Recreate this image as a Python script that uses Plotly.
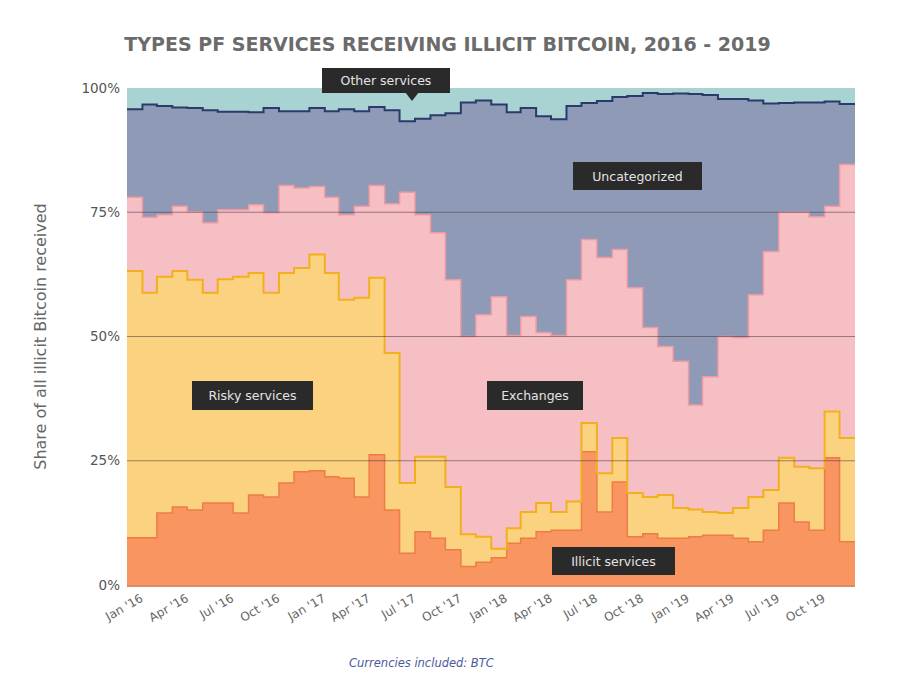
import pandas as pd
import plotly.graph_objects as go

# monthly shares (%) of illicit bitcoin received, Jan 2016 - Dec 2019
months = pd.date_range("2016-01-01", periods=48, freq="MS")

illicit = [9.5, 9.5, 14.5, 15.7, 15.1, 16.5, 16.5, 14.5, 18.1, 17.7, 20.5, 22.8,
           23.0, 21.8, 21.5, 17.7, 26.2, 15.1, 6.4, 10.7, 9.4, 7.1, 3.7, 4.6,
           5.5, 8.4, 9.4, 10.7, 11.0, 11.0, 26.8, 14.7, 20.7, 9.7, 10.3, 9.4,
           9.4, 9.7, 10.0, 10.0, 9.4, 8.7, 11.0, 16.5, 12.7, 11.0, 25.6, 8.7]
risky = [53.7, 49.3, 47.5, 47.5, 46.3, 42.3, 45.0, 47.5, 44.7, 41.1, 42.3, 41.0,
         43.5, 41.0, 35.9, 40.1, 35.6, 31.6, 14.1, 15.1, 16.4, 12.6, 6.5, 5.1,
         1.8, 3.0, 5.3, 5.8, 3.7, 5.8, 5.8, 7.8, 8.9, 8.8, 7.4, 8.7,
         6.1, 5.5, 4.7, 4.5, 6.1, 9.0, 8.1, 9.1, 11.1, 12.5, 9.3, 20.9]
exchanges = [14.8, 15.2, 12.5, 13.0, 13.7, 14.1, 14.0, 13.5, 13.7, 16.1, 17.6, 16.1,
             13.7, 15.2, 17.1, 18.4, 18.6, 30.0, 58.5, 48.7, 45.1, 41.7, 39.8, 44.7,
             50.7, 38.8, 39.3, 34.3, 35.5, 44.6, 36.9, 43.4, 37.9, 41.3, 34.1, 29.9,
             29.5, 21.0, 27.2, 35.5, 34.3, 40.7, 48.0, 49.4, 51.2, 50.6, 41.3, 55.0]
uncategorized = [17.7, 22.7, 21.9, 19.9, 20.9, 22.6, 19.7, 19.7, 18.6, 21.1, 14.9, 15.4,
                 15.8, 17.3, 21.2, 19.1, 15.8, 18.8, 14.3, 19.3, 23.6, 33.5, 47.1, 43.1,
                 38.7, 44.9, 42.0, 43.5, 43.5, 35.0, 27.5, 31.5, 30.7, 38.6, 47.2, 50.8,
                 53.9, 62.6, 56.7, 47.8, 48.0, 39.1, 29.8, 22.0, 22.1, 23.0, 21.1, 12.2]
other = [4.3, 3.3, 3.6, 3.9, 4.0, 4.5, 4.8, 4.8, 4.9, 4.0, 4.7, 4.7,
         4.0, 4.7, 4.3, 4.7, 3.8, 4.5, 6.7, 6.2, 5.5, 5.1, 2.9, 2.5,
         3.3, 4.9, 4.0, 5.7, 6.3, 3.6, 3.0, 2.6, 1.8, 1.6, 1.0, 1.2,
         1.1, 1.2, 1.4, 2.2, 2.2, 2.5, 3.1, 3.0, 2.9, 2.9, 2.7, 3.2]

tick_dates = pd.date_range("2016-01-01", "2019-10-01", freq="QS")
tick_labels = [d.strftime("%b '%y") for d in tick_dates]

# extra point so the last step reaches the right edge
x = list(months) + [pd.Timestamp("2020-01-01")]

series = [
    ("Illicit services", illicit, "#f99561", "#ee7d45", 1.5),
    ("Risky services", risky, "#fbd27f", "#f2b01e", 2),
    ("Exchanges", exchanges, "#f6bfc4", "#ec9aa3", 1.5),
    ("Uncategorized", uncategorized, "#8f9ab7", "#2a3a6a", 2),
    ("Other services", other, "#a9d2d2", "#a9d2d2", 0.5),
]

fig = go.Figure()
for name, vals, fill, line, w in series:
    fig.add_trace(go.Scatter(
        x=x, y=vals + [vals[-1]], name=name,
        stackgroup="one", mode="lines",
        line=dict(shape="hv", color=line, width=w),
        fillcolor=fill,
        hovertemplate="%{x|%b %Y}: %{y:.1f}%<extra>" + name + "</extra>",
    ))

# gridlines drawn over the areas
for v in [25, 50, 75]:
    fig.add_shape(type="line", xref="paper", x0=0, x1=1, yref="y", y0=v, y1=v,
                  line=dict(color="rgba(80,55,65,0.55)", width=1), layer="above")

# dark label boxes: text, x, y, box width, box height
labels = [
    ("Other services", 0.3558, 1.016, 128, 25),
    ("Uncategorized", 0.7012, 0.8228, 129, 28),
    ("Risky services", 0.1724, 0.3807, 121, 29),
    ("Exchanges", 0.5604, 0.3807, 96, 29),
    ("Illicit services", 0.6683, 0.0473, 123, 28),
]
for text, px, py, bw, bh in labels:
    fig.add_annotation(text=text, xref="paper", yref="paper", x=px, y=py,
                       xanchor="center", yanchor="middle",
                       showarrow=False, width=bw - 10, height=bh - 10,
                       bgcolor="#2b2a2a", bordercolor="#2b2a2a", borderwidth=1,
                       borderpad=4,
                       font=dict(family="DejaVu Sans", size=12.5, color="#e4e4e4"))
fig.add_shape(type="path", xref="paper", yref="paper",
              path="M 0.3819 0.992 L 0.4011 0.992 L 0.3915 0.974 Z",
              fillcolor="#2b2a2a", line=dict(width=0), layer="above")

fig.add_annotation(text="Currencies included: BTC", xref="paper", yref="paper",
                   x=0.404, y=-0.156, xanchor="center", yanchor="middle",
                   showarrow=False,
                   font=dict(family="DejaVu Sans", size=11.5, color="#4a5a9c",
                             style="italic"))

fig.update_layout(
    width=897, height=671,
    title=dict(text="TYPES PF SERVICES RECEIVING ILLICIT BITCOIN, 2016 - 2019",
               x=0.49, xanchor="center", y=0.956,
               font=dict(family="DejaVu Sans", size=19, color="#6b6b6b",
                         weight="bold")),
    margin=dict(l=119, r=50, t=80, b=94),
    paper_bgcolor="white", plot_bgcolor="white",
    showlegend=False,
    xaxis=dict(range=[pd.Timestamp("2016-01-01"), pd.Timestamp("2020-01-01")],
               tickvals=tick_dates, ticktext=tick_labels, tickangle=-30,
               ticklabelshift=14,
               showgrid=False, zeroline=False, showline=True, linecolor="#d98a6a",
               linewidth=2,
               tickfont=dict(family="DejaVu Sans", size=12, color="#666")),
    yaxis=dict(range=[0, 100], tickvals=[0, 25, 50, 75, 100],
               ticktext=["0%", "25%", "50%", "75%", "100%"],
               showgrid=False, zeroline=False, ticklabelstandoff=6,
               tickfont=dict(family="DejaVu Sans", size=13.5, color="#555"),
               title=dict(text="Share of all illicit Bitcoin received", standoff=30,
                          font=dict(family="DejaVu Sans", size=16, color="#666"))),
)

fig.write_html("out.html")
